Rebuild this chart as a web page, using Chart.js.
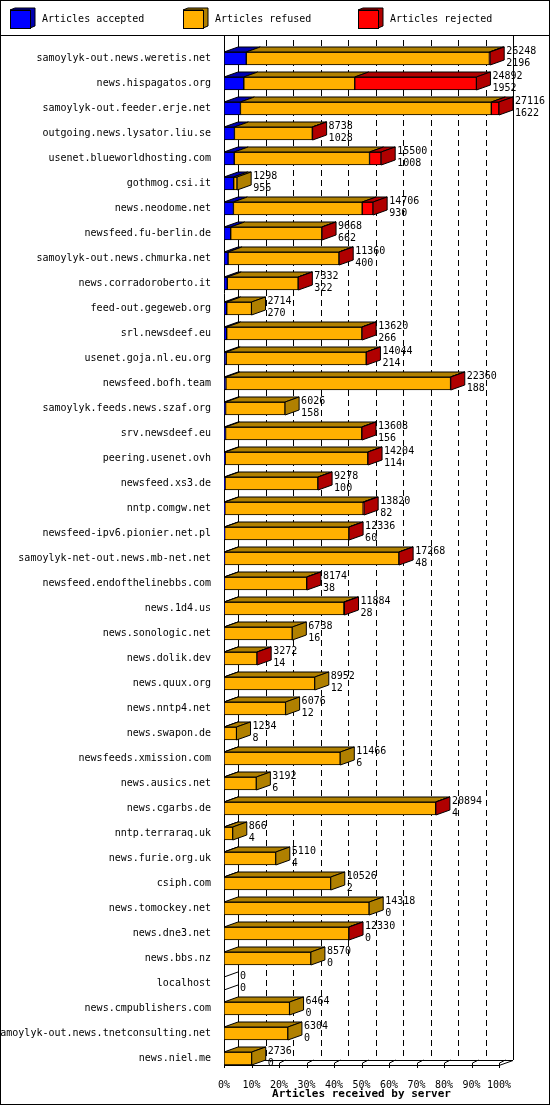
<!DOCTYPE html>
<html><head><meta charset="utf-8">
<script src="https://cdn.jsdelivr.net/npm/chart.js@4/dist/chart.umd.min.js"></script>
<style>html,body{margin:0;padding:0;background:#fff}canvas{display:block}</style>
</head><body>
<div style="width:550px;height:1105px"><canvas id="c"></canvas></div>
<script>
const servers = ["samoylyk-out.news.weretis.net","news.hispagatos.org","samoylyk-out.feeder.erje.net","outgoing.news.lysator.liu.se","usenet.blueworldhosting.com","gothmog.csi.it","news.neodome.net","newsfeed.fu-berlin.de","samoylyk-out.news.chmurka.net","news.corradoroberto.it","feed-out.gegeweb.org","srl.newsdeef.eu","usenet.goja.nl.eu.org","newsfeed.bofh.team","samoylyk.feeds.news.szaf.org","srv.newsdeef.eu","peering.usenet.ovh","newsfeed.xs3.de","nntp.comgw.net","newsfeed-ipv6.pionier.net.pl","samoylyk-net-out.news.mb-net.net","newsfeed.endofthelinebbs.com","news.1d4.us","news.sonologic.net","news.dolik.dev","news.quux.org","news.nntp4.net","news.swapon.de","newsfeeds.xmission.com","news.ausics.net","news.cgarbs.de","nntp.terraraq.uk","news.furie.org.uk","csiph.com","news.tomockey.net","news.dne3.net","news.bbs.nz","localhost","news.cmpublishers.com","samoylyk-out.news.tnetconsulting.net","news.niel.me"];
const offered = [26248,24892,27116,8738,15500,1298,14706,9668,11360,7332,2714,13620,14044,22360,6026,13608,14204,9278,13820,12336,17268,8174,11884,6738,3272,8952,6076,1234,11466,3192,20894,866,5110,10526,14318,12330,8570,0,6464,6304,2736];
const accepted = [2196,1952,1622,1028,1008,956,930,662,400,322,270,266,214,188,158,156,114,100,82,60,48,38,28,16,14,12,12,8,6,6,4,4,4,2,0,0,0,0,0,0,0];
const rejected = [80,12000,760,30,1150,0,1080,20,20,20,0,20,20,20,0,20,20,20,100,20,20,20,60,0,20,0,0,0,0,0,20,0,0,0,0,20,0,0,0,0,0];
const refused = offered.map((t,i)=>t-accepted[i]-rejected[i]);
const maxTotal = 27116;
const tickPct = [0,10,20,30,40,50,60,70,80,90,100];

const front = ['#0000ff','#ffb000','#ff0000'];
const dark  = ['#0000b0','#b08000','#b00000'];
const DX=14, DY=5;

const plugin = {
  id:'threeD',
  beforeDraw(ch){
    const c=ch.ctx, a=ch.chartArea, xs=ch.scales.x;
    c.save();
    c.fillStyle='#fff';c.fillRect(0,0,550,1105);
    c.strokeStyle='#000';c.lineWidth=1;
    c.strokeRect(0.5,0.5,549,1104);
    c.beginPath();c.moveTo(0,35.5);c.lineTo(550,35.5);c.stroke();
    // legend
    const names=['Articles accepted','Articles refused','Articles rejected'];
    const lx=[10,183,358];
    c.font='10px "DejaVu Sans Mono"';c.textBaseline='middle';
    names.forEach((n,i)=>{
      const x=lx[i],y=10,w=20,h=18,d=5;
      c.fillStyle=dark[i];
      c.beginPath();c.moveTo(x,y);c.lineTo(x+d,y-2);c.lineTo(x+w+d,y-2);c.lineTo(x+w+d,y+h-2);c.lineTo(x+w,y+h);c.lineTo(x+w,y);c.closePath();c.fill();c.stroke();
      c.fillStyle=front[i];c.fillRect(x,y,w,h);c.strokeRect(x+0.5,y+0.5,w,h);
      c.fillStyle='#000';c.fillText(n,x+w+12,y+h/2);
    });
    // back wall grid
    const x0=xs.getPixelForValue(0), yb=1060;
    c.beginPath();c.moveTo(x0+DX+0.5,36);c.lineTo(x0+DX+0.5,yb);c.stroke();
    c.beginPath();c.moveTo(513.5,36);c.lineTo(513.5,yb);c.stroke();
    c.setLineDash([6,4]);
    tickPct.slice(1,10).forEach(p=>{
      const x=Math.round(xs.getPixelForValue(p*maxTotal/100))+DX+0.5;
      c.beginPath();c.moveTo(x,40);c.lineTo(x,yb);c.stroke();
    });
    c.setLineDash([]);
    // front left axis
    c.beginPath();c.moveTo(x0+0.5,36);c.lineTo(x0+0.5,1065.5);c.stroke();
    // bottom floor
    const x100=xs.getPixelForValue(maxTotal);
    c.beginPath();c.moveTo(x0,1065.5);c.lineTo(x100,1065.5);c.lineTo(x100+DX,yb+0.5);c.lineTo(x0+DX,yb+0.5);c.stroke();
    tickPct.forEach(p=>{
      const x=Math.round(xs.getPixelForValue(p*maxTotal/100))+0.5;
      c.beginPath();c.moveTo(x,1068);c.lineTo(x,1063);c.lineTo(x+6,yb);c.stroke();
    });
    c.restore();
  },
  afterDatasetsDraw(ch){
    const c=ch.ctx;
    c.save();c.strokeStyle='#000';c.lineWidth=1;
    const metas=[0,1,2].map(i=>ch.getDatasetMeta(i));
    servers.forEach((s,j)=>{
      let last=-1;
      metas.forEach((m,i)=>{
        const el=m.data[j];const p=el.getProps(['x','base','y','height'],true);
        const xa=Math.min(p.x,p.base), xb=Math.max(p.x,p.base), yt=p.y-p.height/2;
        if(xb-xa>0.01){
          last=i;
          c.fillStyle=dark[i];
          c.beginPath();c.moveTo(xa,yt);c.lineTo(xa+DX,yt-DY);c.lineTo(xb+DX,yt-DY);c.lineTo(xb,yt);c.closePath();c.fill();c.stroke();
        }
      });
      const el=metas[2].data[j];const p=el.getProps(['x','y','height'],true);
      const xe=p.x, yt=p.y-p.height/2, yb=p.y+p.height/2;
      if(last>=0){
        c.fillStyle=dark[last];
        c.beginPath();c.moveTo(xe,yt);c.lineTo(xe+DX,yt-DY);c.lineTo(xe+DX,yb-DY);c.lineTo(xe,yb);c.closePath();c.fill();c.stroke();
      } else {
        c.beginPath();c.moveTo(xe,yt);c.lineTo(xe+DX,yt-DY);c.moveTo(xe,yb);c.lineTo(xe+DX,yb-DY);c.stroke();
      }
      c.fillStyle='#000';c.font='10px "DejaVu Sans Mono"';c.textBaseline='middle';c.textAlign='left';
      c.fillText(String(offered[j]),xe+DX+2,p.y-7);
      c.fillText(String(accepted[j]),xe+DX+2,p.y+5);
    });
    c.restore();
  }
};

new Chart(document.getElementById('c'),{
  type:'bar',
  data:{labels:servers,datasets:[
    {label:'Articles accepted',data:accepted,backgroundColor:front[0]},
    {label:'Articles refused',data:refused,backgroundColor:front[1]},
    {label:'Articles rejected',data:rejected,backgroundColor:front[2]}
  ].map(d=>Object.assign(d,{borderColor:'#000',borderWidth:1,borderSkipped:false,barThickness:13}))},
  options:{
    indexAxis:'y',responsive:true,maintainAspectRatio:false,animation:false,
    layout:{padding:{top:46,right:51,left:0,bottom:0}},
    plugins:{legend:{display:false},tooltip:{enabled:false}},
    scales:{
      x:{stacked:true,min:0,max:maxTotal,
        afterBuildTicks(s){s.ticks=tickPct.map(p=>({value:p*maxTotal/100}));},
        afterFit(s){s.height=1105-1071;},
        grid:{display:false},border:{display:false},
        ticks:{autoSkip:false,maxRotation:0,padding:0,color:'#000',font:{family:'DejaVu Sans Mono',size:10},
          callback:(v)=>Math.round(v/maxTotal*100)+'%'},
        title:{display:true,text:'Articles received by server',color:'#000',padding:{top:2,bottom:4},
          font:{family:'DejaVu Sans Mono',size:11,weight:'bold'}}
      },
      y:{stacked:true,afterFit(s){s.width=224;},
        grid:{display:false},border:{display:false},
        ticks:{autoSkip:false,padding:5,color:'#000',font:{family:'DejaVu Sans Mono',size:10}}}
    }
  },
  plugins:[plugin]
});
</script></body></html>
